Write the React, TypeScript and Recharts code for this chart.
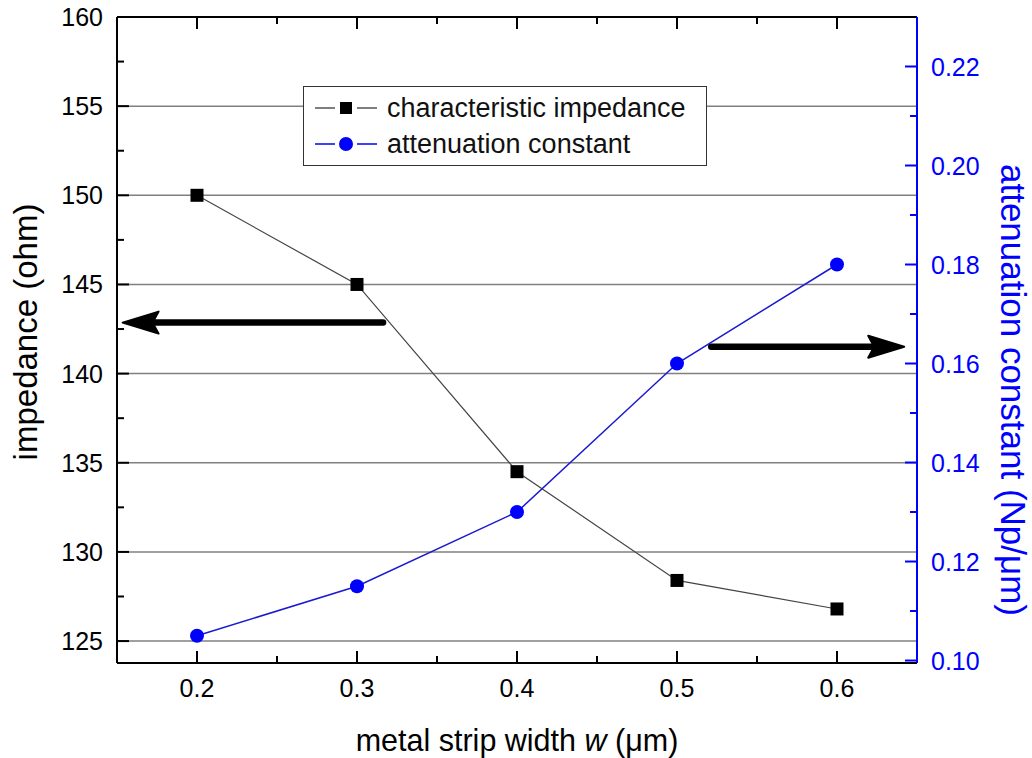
import React from "react";
import { LineChart, Line, XAxis, YAxis, CartesianGrid, Legend, ReferenceLine, Label } from "recharts";

const widths = [0.2, 0.3, 0.4, 0.5, 0.6];
const impedance = [150, 145, 134.5, 128.4, 126.8];
const attenuation = [0.105, 0.115, 0.13, 0.16, 0.18];

const xMajor = [0.2, 0.3, 0.4, 0.5, 0.6];
const xMinor = [0.25, 0.35, 0.45, 0.55];
const leftMajor = [125, 130, 135, 140, 145, 150, 155, 160];
const leftMinor = [127.5, 132.5, 137.5, 142.5, 147.5, 152.5, 157.5];
const rightMajor = [0.1, 0.12, 0.14, 0.16, 0.18, 0.2, 0.22];
const rightMinor = [0.11, 0.13, 0.15, 0.17, 0.19, 0.21];
const gridValues = [125, 130, 135, 140, 145, 150, 155];

// arrow annotations: [x from, x to] at a level of the matching axis
const leftArrow = { y: 142.86, from: 0.3163, to: 0.1535 };
const rightArrow = { y: 0.1634, from: 0.5214, to: 0.642 };

const FONT = '"Liberation Sans", Arial, sans-serif';
const BLUE = "#0000ff";

const data = widths.map((w, i) => ({ w, imp: impedance[i], att: attenuation[i] }));

const isIn = (arr: number[], v: number) => arr.some((m) => Math.abs(m - v) < 1e-9);
const sorted = (a: number[], b: number[]) => [...a, ...b].sort((p, q) => p - q);

function makeTick(side: "left" | "right" | "bottom" | "top", majors: number[], color: string, fmt: (v: number) => string) {
  return (props: any) => {
    const { x, y, payload } = props;
    const v = payload.value;
    const major = isIn(majors, v);
    const len = major ? 12 : 7;
    let line;
    let label = null;
    if (side === "left") {
      line = <line x1={x} y1={y} x2={x + len} y2={y} stroke={color} strokeWidth={2} />;
      if (major)
        label = (
          <text x={x - 14} y={y} textAnchor="end" dominantBaseline="central" fontSize={25} fontFamily={FONT} fill={color}>
            {fmt(v)}
          </text>
        );
    } else if (side === "right") {
      line = <line x1={x} y1={y} x2={x - len} y2={y} stroke={color} strokeWidth={2} />;
      if (major)
        label = (
          <text x={x + 14} y={y} textAnchor="start" dominantBaseline="central" fontSize={25} fontFamily={FONT} fill={color}>
            {fmt(v)}
          </text>
        );
    } else if (side === "bottom") {
      line = <line x1={x} y1={y} x2={x} y2={y - len} stroke={color} strokeWidth={2} />;
      if (major)
        label = (
          <text x={x} y={y + 25} textAnchor="middle" dominantBaseline="central" fontSize={25} fontFamily={FONT} fill={color}>
            {fmt(v)}
          </text>
        );
    } else {
      line = <line x1={x} y1={y} x2={x} y2={y + len} stroke={color} strokeWidth={2} />;
    }
    return (
      <g>
        {line}
        {label}
      </g>
    );
  };
}

const SquareDot = (props: any) => {
  const { cx, cy } = props;
  if (cx == null || cy == null) return <g />;
  return <rect x={cx - 6.5} y={cy - 6.5} width={13} height={13} fill="#000" />;
};

const ArrowShape = (props: any) => {
  const { x1, y1, x2, y2 } = props;
  const dir = x2 > x1 ? 1 : -1;
  const head = 36;
  return (
    <g>
      <line x1={x1} y1={y1} x2={x2 - dir * (head - 4)} y2={y2} stroke="#000" strokeWidth={6.5} strokeLinecap="round" />
      <polygon
        points={`${x2},${y2} ${x2 - dir * head},${y2 - 11} ${x2 - dir * (head - 6)},${y2} ${x2 - dir * head},${y2 + 11}`}
        fill="#000"
        stroke="#000"
        strokeWidth={2}
        strokeLinejoin="round"
      />
    </g>
  );
};

const LegendBox = () => {
  const row = (color: string, marker: React.ReactNode, text: string) => (
    <div style={{ display: "flex", alignItems: "center", height: 36 }}>
      <svg width={62} height={20} style={{ marginLeft: 11 }}>
        <line x1={0} y1={10} x2={20} y2={10} stroke={color} strokeWidth={1.5} />
        {marker}
        <line x1={42} y1={10} x2={62} y2={10} stroke={color} strokeWidth={1.5} />
      </svg>
      <span style={{ marginLeft: 10, fontSize: 27, fontFamily: FONT, color: "#111", whiteSpace: "nowrap" }}>{text}</span>
    </div>
  );
  return (
    <div
      style={{
        boxSizing: "border-box",
        width: 404,
        height: 80,
        border: "1.5px solid #333",
        background: "#fff",
        paddingTop: 3,
      }}
    >
      {row("#555", <rect x={25} y={4} width={12} height={12} fill="#000" />, "characteristic impedance")}
      {row(BLUE, <circle cx={31} cy={10} r={7} fill={BLUE} />, "attenuation constant")}
    </div>
  );
};

export default function App() {
  return (
    <div style={{ position: "absolute", left: 0, top: 0, width: 1032, height: 758, background: "#fff" }}>
      <LineChart width={1032} height={758} data={data} margin={{ top: 9, right: 0, bottom: 0, left: 0 }}>
        <CartesianGrid xAxisId="bottom" yAxisId="left" vertical={false} horizontalValues={gridValues} stroke="#808080" strokeWidth={1.5} />
        <XAxis
          xAxisId="bottom"
          dataKey="w"
          type="number"
          domain={[0.15, 0.65]}
          allowDataOverflow
          ticks={sorted(xMajor, xMinor)}
          interval={0}
          height={95}
          tickSize={0}
          tickMargin={0}
          axisLine={{ stroke: "#000", strokeWidth: 2 }}
          tickLine={false}
          tick={makeTick("bottom", xMajor, "#000", (v) => v.toFixed(1))}
        >
          <Label
            content={(p: any) => {
              const vb = p.viewBox;
              return (
                <text x={vb.x + vb.width / 2} y={vb.y + 77} textAnchor="middle" dominantBaseline="central" fontSize={30.5} fontFamily={FONT} fill="#000">
                  metal strip width <tspan fontStyle="italic">w</tspan> (μm)
                </text>
              );
            }}
          />
        </XAxis>
        <XAxis
          xAxisId="top"
          orientation="top"
          dataKey="w"
          type="number"
          domain={[0.15, 0.65]}
          allowDataOverflow
          ticks={sorted(xMajor, xMinor)}
          interval={0}
          height={8}
          tickSize={0}
          tickMargin={0}
          axisLine={{ stroke: "#000", strokeWidth: 2 }}
          tickLine={false}
          tick={makeTick("top", xMajor, "#000", (v) => v.toFixed(1))}
        />
        <YAxis
          yAxisId="left"
          type="number"
          domain={[123.77, 160]}
          allowDataOverflow
          ticks={sorted(leftMajor, leftMinor)}
          interval={0}
          width={117}
          tickSize={0}
          tickMargin={0}
          axisLine={{ stroke: "#000", strokeWidth: 2 }}
          tickLine={false}
          tick={makeTick("left", leftMajor, "#000", (v) => String(v))}
        >
          <Label
            content={(p: any) => {
              const vb = p.viewBox;
              const cx = vb.x + 25;
              const cy = vb.y + vb.height / 2 - 8;
              return (
                <text x={cx} y={cy} transform={`rotate(-90, ${cx}, ${cy})`} textAnchor="middle" dominantBaseline="central" fontSize={33} fontFamily={FONT} fill="#000">
                  impedance (ohm)
                </text>
              );
            }}
          />
        </YAxis>
        <YAxis
          yAxisId="right"
          orientation="right"
          type="number"
          domain={[0.0995, 0.23]}
          allowDataOverflow
          ticks={sorted(rightMajor, rightMinor)}
          interval={0}
          width={115}
          tickSize={0}
          tickMargin={0}
          axisLine={{ stroke: BLUE, strokeWidth: 2 }}
          tickLine={false}
          tick={makeTick("right", rightMajor, BLUE, (v) => v.toFixed(2))}
        >
          <Label
            content={(p: any) => {
              const vb = p.viewBox;
              const cx = vb.x + 96;
              const cy = vb.y + vb.height / 2 + 50;
              return (
                <text x={cx} y={cy} transform={`rotate(90, ${cx}, ${cy})`} textAnchor="middle" dominantBaseline="central" fontSize={35} fontFamily={FONT} fill={BLUE}>
                  attenuation constant (Np/μm)
                </text>
              );
            }}
          />
        </YAxis>
        <ReferenceLine
          xAxisId="bottom"
          yAxisId="left"
          segment={[
            { x: leftArrow.from, y: leftArrow.y },
            { x: leftArrow.to, y: leftArrow.y },
          ]}
          shape={ArrowShape}
        />
        <ReferenceLine
          xAxisId="bottom"
          yAxisId="right"
          segment={[
            { x: rightArrow.from, y: rightArrow.y },
            { x: rightArrow.to, y: rightArrow.y },
          ]}
          shape={ArrowShape}
        />
        <Line
          xAxisId="bottom"
          yAxisId="left"
          dataKey="imp"
          name="characteristic impedance"
          stroke="#444"
          strokeWidth={1.2}
          dot={SquareDot}
          activeDot={false}
          isAnimationActive={false}
        />
        <Line
          xAxisId="bottom"
          yAxisId="right"
          dataKey="att"
          name="attenuation constant"
          stroke="#1a1ad0"
          strokeWidth={1.5}
          dot={{ r: 7, fill: BLUE, stroke: BLUE, strokeWidth: 0 }}
          activeDot={false}
          isAnimationActive={false}
        />
        <Legend
          layout="horizontal"
          verticalAlign="middle"
          align="center"
          wrapperStyle={{ left: 303, top: 86, width: 404, height: 80 }}
          content={() => <LegendBox />}
        />
      </LineChart>
    </div>
  );
}
